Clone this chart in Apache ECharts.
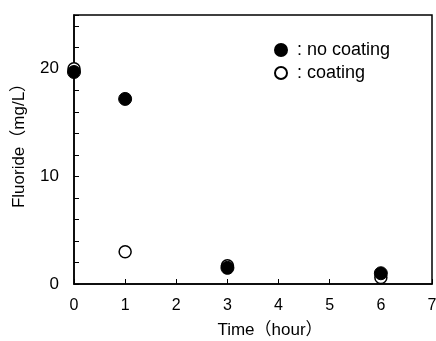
<!DOCTYPE html>
<html>
<head>
<meta charset="utf-8">
<script src="https://cdn.jsdelivr.net/npm/echarts@6/dist/echarts.min.js"></script>
<style>
  html, body { margin: 0; padding: 0; background: #fff; }
  #main { width: 436px; height: 341px; }
</style>
</head>
<body>
<div id="main"></div>
<script>
// time in hours
const noCoating = [[0, 19.7], [1, 17.2], [3, 1.5], [6, 1.0]];
const coating = [[0, 20.0], [1, 3.0], [3, 1.7], [6, 0.6]];
const seriesNames = [' : no coating', ' : coating'];

const font = 'Arial, "Liberation Sans", "Noto Sans CJK JP", sans-serif';

var chart = echarts.init(document.getElementById('main'));
chart.setOption({
    animation: false,
    backgroundColor: '#fff',
    textStyle: { fontFamily: font, color: '#000' },
    grid: {
        left: 74, right: 4, top: 15, bottom: 57,
        outerBoundsMode: 'none', containLabel: false,
        show: true, borderColor: '#000', borderWidth: 1.5
    },
    legend: {
        data: [seriesNames[0], seriesNames[1]],
        orient: 'vertical',
        left: 274,
        top: 41,
        padding: 0,
        itemWidth: 12,
        itemHeight: 12,
        itemGap: 5,
        textStyle: { fontSize: 18, lineHeight: 18, color: '#000', fontFamily: font }
    },
    xAxis: {
        type: 'value',
        min: 0, max: 7, interval: 1,
        name: 'Time（hour）',
        nameLocation: 'middle',
        nameGap: 38,
        nameTextStyle: { fontSize: 17, color: '#000', padding: [0, 0, 0, 34] },
        axisLine: { show: true, lineStyle: { color: '#000', width: 1.5 } },
        axisTick: { show: true, inside: true, length: 5, lineStyle: { color: '#000' } },
        axisLabel: { fontSize: 16, color: '#000', margin: 14 },
        splitLine: { show: false }
    },
    yAxis: {
        type: 'value',
        min: 0, max: 25, interval: 2,
        name: 'Fluoride（mg/L）',
        nameLocation: 'middle',
        nameGap: 46,
        nameTextStyle: { fontSize: 17, color: '#000', padding: [0, 0, 0, 16] },
        axisLine: { show: true, lineStyle: { color: '#000', width: 1.5 } },
        axisTick: { show: true, inside: true, length: 5, lineStyle: { color: '#000' } },
        axisLabel: {
            fontSize: 17, color: '#000', margin: 15,
            formatter: function (v) { return v % 10 === 0 ? String(v) : ''; }
        },
        splitLine: { show: false }
    },
    series: [
        {
            name: seriesNames[1],
            type: 'scatter',
            data: coating,
            symbol: 'circle',
            symbolSize: 12,
            itemStyle: { color: '#fff', borderColor: '#000', borderWidth: 1.5, opacity: 1 }
        },
        {
            name: seriesNames[0],
            type: 'scatter',
            data: noCoating,
            symbol: 'circle',
            symbolSize: 13,
            itemStyle: { color: '#000', borderColor: '#000', borderWidth: 1, opacity: 1 }
        }
    ]
});
</script>
</body>
</html>
